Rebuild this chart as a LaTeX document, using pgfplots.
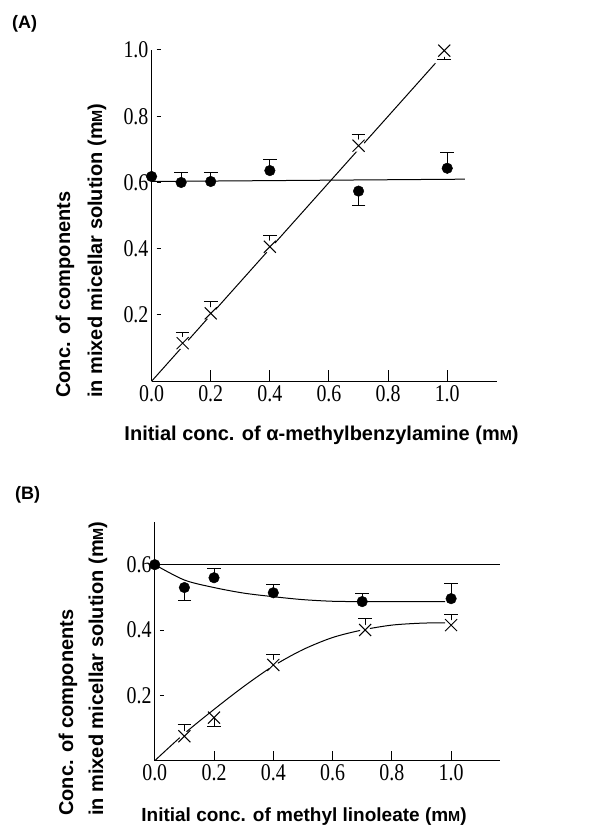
\documentclass[border=0pt]{standalone}
\usepackage{fontspec}
\setmainfont{Liberation Serif}
\setsansfont{Liberation Sans}
\usepackage{pgfplots}
\pgfplotsset{compat=1.18}

\newcommand{\lab}{\sffamily\bfseries\fontsize{20}{24}\selectfont}
\newcommand{\mM}{m{\fontsize{14.5}{14.5}\selectfont M}}

\pgfplotsset{
  panel/.style={
    scale only axis,
    axis x line=bottom, axis y line=left,
    axis line style={-, line width=1.2pt},
    xmin=0, xmax=1.167, ymin=0,
    xtick align=inside, ytick align=inside,
    major tick length=4.5pt,
    xtick={0,0.2,0.4,0.6,0.8,1.0},
    every tick/.style={black, line width=1pt},
    every y tick/.style={black, line width=1pt, xshift=5pt},
    tick label style={font=\fontsize{24}{24}\selectfont},
    xticklabel={\scalebox{0.83}[1]{\pgfmathprintnumber[fixed,fixed zerofill,precision=1,assume math mode=true]{\tick}}},
    yticklabel={\scalebox{0.83}[1]{\pgfmathprintnumber[fixed,fixed zerofill,precision=1,assume math mode=true]{\tick}}},
    xticklabel style={inner ysep=4pt},
    yticklabel style={inner xsep=3pt},
    clip=false,
  },
  tickcomb/.style={ycomb, black, line width=1pt, no marks},
  cline/.style={line width=1pt, black, no marks},
  gap/.style={only marks, mark=*, mark size=6pt, white},
  circ/.style={only marks, mark=*, mark size=5.3pt, black},
  crs/.style={only marks, mark=x, mark size=8.5pt, black, mark options={line width=1pt}},
  eup/.style={error bars/.cd, y dir=plus, y explicit, error mark=|,
    error mark options={mark size=6.8pt, line width=1pt, black},
    error bar style={line width=1pt, black}},
  edn/.style={error bars/.cd, y dir=minus, y explicit, error mark=|,
    error mark options={mark size=6.8pt, line width=1pt, black},
    error bar style={line width=1pt, black}},
}

\begin{document}
\begin{tikzpicture}
\useasboundingbox (0,0) rectangle (594pt,826pt);

% ---------------- Panel A ----------------
\begin{axis}[panel,
  at={(151.6pt,444.75pt)}, anchor=south west,
  width=345pt, height=331.25pt,
  ymax=1.0,
  ytick={0.2,0.4,0.6,0.8,1.0},
]
% x tick marks (inside, long)
\addplot[tickcomb] coordinates {(0.2,0.034) (0.4,0.034) (0.6,0.034) (0.8,0.034) (1.0,0.034)};
\addplot[cline] coordinates {(0,0.603) (1.06,0.61)};
\addplot[cline] coordinates {(0,0) (0.96,0.96)};
\addplot[gap] coordinates {(0.105,0.115) (0.2,0.205) (0.4,0.406) (0.7,0.711) (0.99,0.998)};
% circles
\addplot[circ] coordinates {(0,0.618)};
\addplot[circ, eup] coordinates {(0.1,0.60) +- (0,0.03) (0.2,0.603) +- (0,0.027) (0.4,0.636) +- (0,0.032) (1.0,0.643) +- (0,0.047)};
\addplot[circ, edn] coordinates {(0.7,0.574) +- (0,0.042)};
% crosses
\addplot[crs, eup] coordinates {(0.105,0.115) +- (0,0.033) (0.2,0.205) +- (0,0.035) (0.4,0.406) +- (0,0.034) (0.7,0.711) +- (0,0.034)};
\addplot[crs, edn] coordinates {(0.99,0.998) +- (0,0.026)};
\end{axis}

% ---------------- Panel B ----------------
\begin{axis}[panel,
  at={(154.75pt,65.3pt)}, anchor=south west,
  width=345.25pt, height=238.5pt,
  xmax=1.165, ymax=0.73,
  ytick={0.2,0.4,0.6},
]
% x tick marks (inside, long)
\addplot[tickcomb] coordinates {(0.2,0.031) (0.4,0.031) (0.6,0.031) (0.8,0.031) (1.0,0.031)};
\addplot[cline] coordinates {(0,0.6) (1.165,0.6)};
\addplot[cline, smooth] coordinates {(0,0.6) (0.1,0.553) (0.2,0.53) (0.3,0.513) (0.4,0.502) (0.5,0.493) (0.6,0.488) (0.7,0.487) (0.85,0.487) (0.98,0.487)};
\addplot[cline, smooth] coordinates {(0,0) (0.1,0.083) (0.2,0.157) (0.3,0.227) (0.4,0.29) (0.5,0.34) (0.6,0.377) (0.7,0.40) (0.8,0.415) (0.9,0.421) (0.98,0.422)};
\addplot[gap, mark size=5pt] coordinates {(0.1,0.075) (0.4,0.293) (0.71,0.40) (1.0,0.415)};
% circles
\addplot[circ] coordinates {(0,0.6)};
\addplot[circ, edn] coordinates {(0.1,0.53) +- (0,0.04)};
\addplot[circ, eup] coordinates {(0.2,0.56) +- (0,0.027) (0.4,0.514) +- (0,0.026) (0.7,0.487) +- (0,0.025) (1.0,0.496) +- (0,0.047)};
% crosses
\addplot[crs, eup] coordinates {(0.1,0.075) +- (0,0.037) (0.4,0.293) +- (0,0.033) (0.71,0.40) +- (0,0.034) (1.0,0.415) +- (0,0.034)};
\addplot[crs, edn] coordinates {(0.2,0.132) +- (0,0.027)};
\end{axis}

% ---------------- Labels ----------------
\node[anchor=west, inner sep=0] at (12pt,802pt) {\sffamily\bfseries\fontsize{18}{20}\selectfont (A)};
\node[anchor=west, inner sep=0] at (15pt,331pt) {\sffamily\bfseries\fontsize{18}{20}\selectfont (B)};

\node[anchor=base, inner sep=0] at (321.5pt,385pt) {\lab Initial conc. of α-methylbenzylamine (\mM)};
\node[anchor=base, inner sep=0] at (304pt,5pt) {\lab\fontsize{19}{22}\selectfont Initial conc. of methyl linoleate (\mM)};

\node[anchor=base west, rotate=90, inner sep=0] at (70pt,428pt) {\lab Conc. of components};
\node[anchor=base west, rotate=90, inner sep=0] at (102pt,428pt) {\lab in mixed micellar solution (\mM)};
\node[anchor=base west, rotate=90, inner sep=0] at (73pt,10pt) {\lab Conc. of components};
\node[anchor=base west, rotate=90, inner sep=0] at (103pt,10pt) {\lab in mixed micellar solution (\mM)};
\end{tikzpicture}
\end{document}
